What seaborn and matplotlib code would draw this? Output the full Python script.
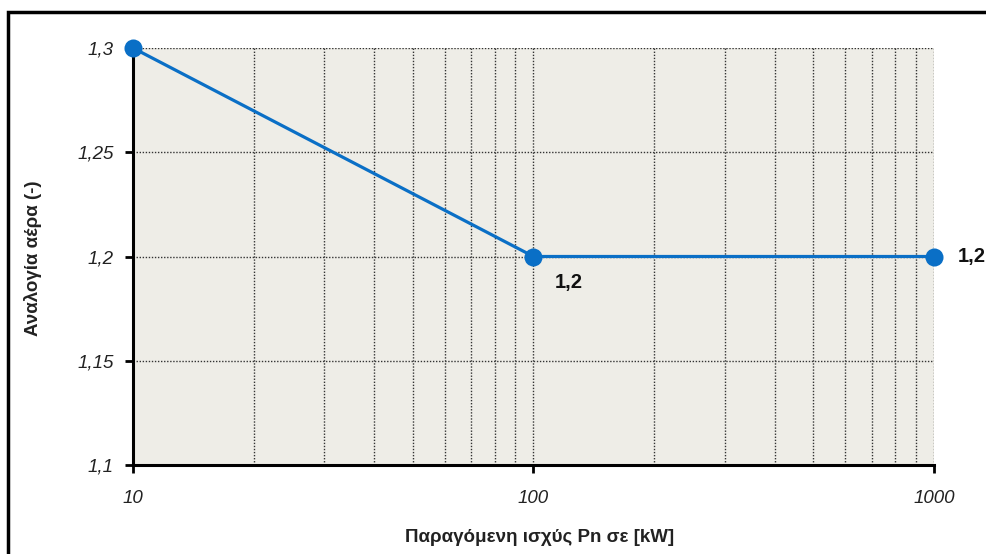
import matplotlib
matplotlib.use("Agg")
import matplotlib.pyplot as plt
import matplotlib.ticker as mticker
from matplotlib.patches import Rectangle
import seaborn as sns
import pandas as pd

power_kw = [10, 100, 1000]
air_ratio = [1.3, 1.2, 1.2]
point_labels = ["", "1,2", "1,2"]
y_ticks = [1.1, 1.15, 1.2, 1.25, 1.3]
y_tick_labels = ["1,1", "1,15", "1,2", "1,25", "1,3"]
x_ticks = [10, 100, 1000]
x_tick_labels = ["10", "100", "1000"]

sns.set_theme(style="white")
plt.rcParams["font.family"] = ["Liberation Sans", "DejaVu Sans"]

fig = plt.figure(figsize=(9.87, 5.54), dpi=100)
ax = fig.add_axes([133/987, 1-465/554, (934-133)/987, (465-48)/554])
ax.set_facecolor("#EEEDE7")

df = pd.DataFrame({"P": power_kw, "r": air_ratio})
blue = "#0A6FC6"
sns.lineplot(data=df, x="P", y="r", ax=ax, color=blue, linewidth=2.3,
             marker="o", markersize=13, markeredgewidth=0, zorder=5)
for line in ax.lines:
    line.set_clip_on(False)

ax.set_xscale("log")
ax.set_xlim(10, 1000)
ax.set_ylim(1.1, 1.3)

ax.set_yticks(y_ticks)
ax.set_yticklabels(y_tick_labels)
ax.set_xticks(x_ticks)
ax.set_xticklabels(x_tick_labels)
ax.xaxis.set_minor_locator(mticker.LogLocator(base=10, subs=range(2, 10)))
ax.xaxis.set_minor_formatter(mticker.NullFormatter())

grid_kw = dict(color="#333333", linestyle=(0, (1, 1.2)), linewidth=1.0)
ax.grid(True, which="major", axis="both", **grid_kw)
ax.grid(True, which="minor", axis="x", **grid_kw)
ax.set_axisbelow(True)

for s in ["top", "right"]:
    ax.spines[s].set_visible(False)
for s in ["left", "bottom"]:
    ax.spines[s].set_color("black")
    ax.spines[s].set_linewidth(2.2)
    ax.spines[s].set_zorder(3)

ax.tick_params(axis="y", which="major", direction="out", length=6, width=2,
               color="black", pad=8, labelsize=13.5, left=True)
ax.tick_params(axis="x", which="major", direction="out", length=6, width=2,
               color="black", pad=12, labelsize=13.5, bottom=True)
ax.tick_params(axis="x", which="minor", length=0)
for lab in ax.get_xticklabels() + ax.get_yticklabels():
    lab.set_fontstyle("italic")
    lab.set_color("#222222")

ax.set_xlabel("Παραγόμενη ισχύς Pn σε [kW]", fontsize=13.5, fontweight="bold",
              color="#222222")
ax.set_ylabel("Αναλογία αέρα (-)", fontsize=13.5, fontweight="bold",
              color="#222222")
ax.xaxis.set_label_coords((540-133)/801, -(537-465)/417)
ax.yaxis.set_label_coords((33-133)/801, (465-258)/417)
ax.xaxis.label.set_va("center")
ax.yaxis.label.set_va("center")

offsets = [(0, 0), (15, -19), (17, 0)]
for x, y, t, (dx, dy) in zip(power_kw, air_ratio, point_labels, offsets):
    if t:
        ax.annotate(t, (x, y), xytext=(dx, dy), textcoords="offset points",
                    fontsize=14.5, fontweight="bold", color="#111111",
                    ha="left", va="center", annotation_clip=False)

fig.patches.append(Rectangle((8/987, -0.05), 1.1, 1 - 12/554 + 0.05,
                             transform=fig.transFigure, fill=False,
                             edgecolor="black", linewidth=2.5))

fig.savefig("out.png", dpi=100)
